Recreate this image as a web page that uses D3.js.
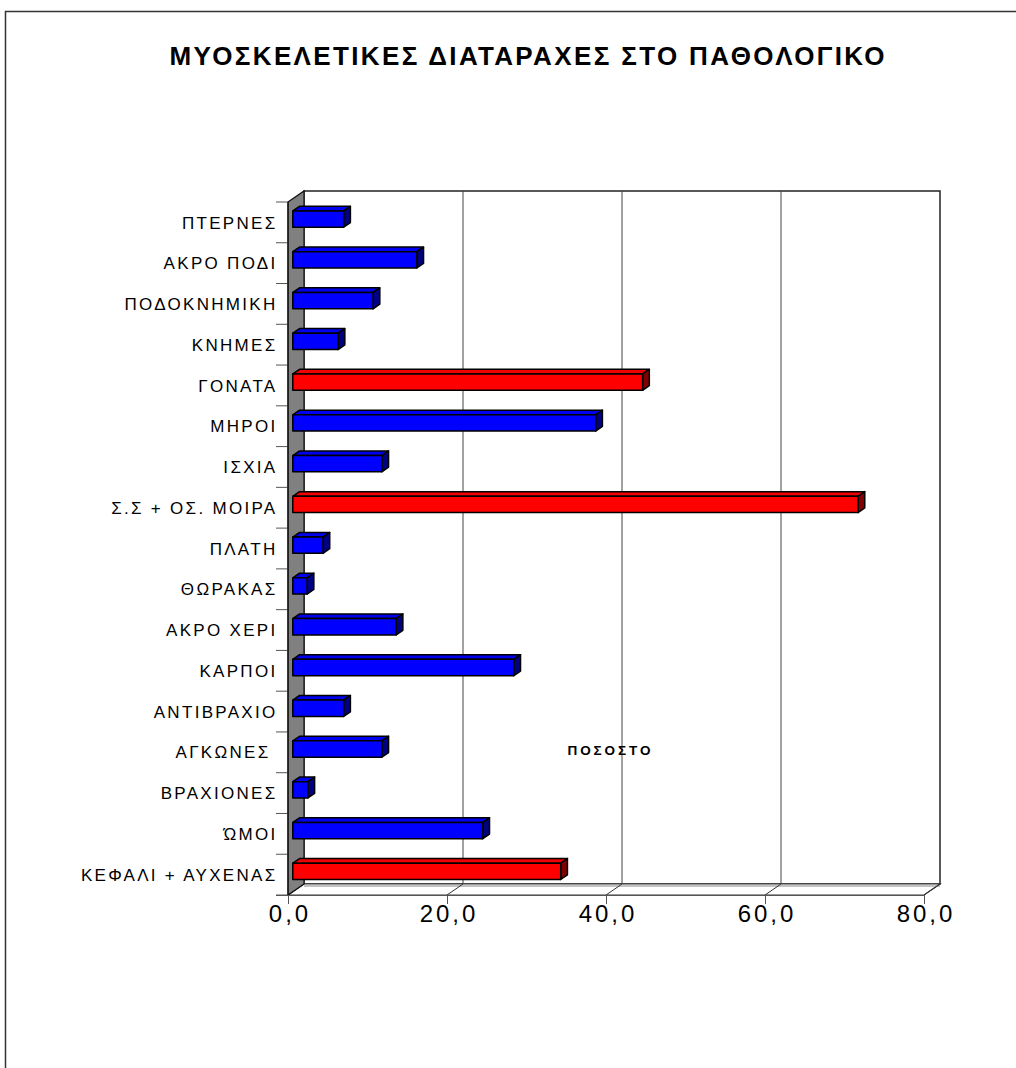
<!DOCTYPE html>
<html>
<head>
<meta charset="utf-8">
<script src="https://cdn.jsdelivr.net/npm/d3@7"></script>
<style>
  html, body { margin: 0; padding: 0; background: #fff; }
  svg { display: block; }
  text { font-family: "Liberation Sans", Arial, sans-serif; }
</style>
</head>
<body>
<script>
// Categories, top to bottom as listed on the axis
const categories = [
  "ΠΤΕΡΝΕΣ", "ΑΚΡΟ ΠΟΔΙ", "ΠΟΔΟΚΝΗΜΙΚΗ", "ΚΝΗΜΕΣ", "ΓΟΝΑΤΑ", "ΜΗΡΟΙ",
  "ΙΣΧΙΑ", "Σ.Σ + ΟΣ. ΜΟΙΡΑ", "ΠΛΑΤΗ", "ΘΩΡΑΚΑΣ", "ΑΚΡΟ ΧΕΡΙ", "ΚΑΡΠΟΙ",
  "ΑΝΤΙΒΡΑΧΙΟ", "ΑΓΚΩΝΕΣ ", "ΒΡΑΧΙΟΝΕΣ", "ΏΜΟΙ", "ΚΕΦΑΛΙ + ΑΥΧΕΝΑΣ"
];
// Percentage per body region
const values = [
  6.4, 15.6, 10.1, 5.7, 44.0, 38.1,
  11.2, 71.1, 3.8, 1.8, 13.0, 27.8,
  6.4, 11.2, 1.9, 23.9, 33.7
];
// Highlighted regions (drawn red)
const highlighted = ["ΓΟΝΑΤΑ", "Σ.Σ + ΟΣ. ΜΟΙΡΑ", "ΚΕΦΑΛΙ + ΑΥΧΕΝΑΣ"];
const xTicks = [0, 20, 40, 60, 80];
const title = "ΜΥΟΣΚΕΛΕΤΙΚΕΣ ΔΙΑΤΑΡΑΧΕΣ ΣΤΟ ΠΑΘΟΛΟΓΙΚΟ";
const xTitle = "ΠΟΣΟΣΤΟ";

const W = 1016, H = 1068;
const svg = d3.select("body").append("svg").attr("width", W).attr("height", H);

// Outer chart frame (extends past the visible page on right and bottom)
svg.append("path")
  .attr("d", "M5.5,1100 L5.5,11.5 L1100,11.5")
  .attr("fill", "none").attr("stroke", "#333").attr("stroke-width", 1.5);

// 3D box geometry: front plane and depth offset
const X0 = 288, X1 = 924;          // front plane x extent
const Y0 = 202, Y1 = 895;          // front plane y extent
const DX = 16, DY = -11;           // depth vector (front -> back)

const x = d3.scaleLinear().domain([0, 80]).range([X0, X1]);
const y = d3.scaleBand().domain(categories).range([Y0, Y1]).paddingInner(0.6).paddingOuter(0.3);
const yEdge = d3.scaleLinear().domain([0, categories.length]).range([Y0, Y1]);

const P = (px, py, f) => [px + DX * f, py + DY * f];
const poly = pts => "M" + pts.map(p => p.join(",")).join("L") + "Z";

// Back wall
svg.append("rect")
  .attr("x", X0 + DX).attr("y", Y0 + DY)
  .attr("width", X1 - X0).attr("height", Y1 - Y0)
  .attr("fill", "#fff").attr("stroke", "#222").attr("stroke-width", 1.5);

// Vertical gridlines on back wall
const grid = svg.append("g");
xTicks.filter(v => v > 0 && v < 80).forEach(v => {
  grid.append("line")
    .attr("x1", x(v) + DX).attr("x2", x(v) + DX)
    .attr("y1", Y0 + DY).attr("y2", Y1 + DY)
    .attr("stroke", "#444").attr("stroke-width", 1);
});

// Floor slab with gridline continuations
svg.append("path")
  .attr("d", poly([[X0, Y1], [X0 + DX, Y1 + DY], [X1 + DX, Y1 + DY], [X1, Y1]]))
  .attr("fill", "#fff").attr("stroke", "#333").attr("stroke-width", 1.2);
svg.append("line")
  .attr("x1", X0 + DX).attr("x2", X1 + DX)
  .attr("y1", Y1 + DY + 2).attr("y2", Y1 + DY + 2)
  .attr("stroke", "#888").attr("stroke-width", 1);
xTicks.forEach(v => {
  svg.append("line")
    .attr("x1", x(v)).attr("y1", Y1)
    .attr("x2", x(v) + DX).attr("y2", Y1 + DY)
    .attr("stroke", "#333").attr("stroke-width", 1);
});

// Side wall (grey)
svg.append("path")
  .attr("d", poly([[X0, Y0], [X0 + DX, Y0 + DY], [X0 + DX, Y1 + DY], [X0, Y1]]))
  .attr("fill", "#808080").attr("stroke", "#111").attr("stroke-width", 1.2);

// Bars as 3D boxes
const f1 = 0.3, f2 = 0.72;   // bar depth span as fraction of the box depth
const colors = {
  blue: { front: "#0000ff", top: "#0000f0", side: "#000080" },
  red:  { front: "#ff0000", top: "#f00000", side: "#800000" }
};
const bars = svg.append("g");
categories.forEach((c, i) => {
  const col = highlighted.includes(c) ? colors.red : colors.blue;
  const xa = x(0), xb = x(values[i]);
  const ya = y(c), yb = y(c) + y.bandwidth();
  const g = bars.append("g").attr("stroke", "#000").attr("stroke-width", 1.5).attr("stroke-linejoin", "round");
  g.append("path").attr("fill", col.top)
    .attr("d", poly([P(xa, ya, f1), P(xb, ya, f1), P(xb, ya, f2), P(xa, ya, f2)]));
  g.append("path").attr("fill", col.side)
    .attr("d", poly([P(xb, ya, f1), P(xb, ya, f2), P(xb, yb, f2), P(xb, yb, f1)]));
  g.append("path").attr("fill", col.front)
    .attr("d", poly([P(xa, ya, f1), P(xb, ya, f1), P(xb, yb, f1), P(xa, yb, f1)]));
});

// Category axis: ticks at band edges, labels centred on bands
const yAxis = svg.append("g");
d3.range(categories.length + 1).forEach(k => {
  yAxis.append("line")
    .attr("x1", X0 - 12).attr("x2", X0)
    .attr("y1", yEdge(k)).attr("y2", yEdge(k))
    .attr("stroke", "#555").attr("stroke-width", 1);
});
yAxis.append("line")
  .attr("x1", X0).attr("x2", X0).attr("y1", Y0).attr("y2", Y1)
  .attr("stroke", "#111").attr("stroke-width", 1.2);
yAxis.selectAll("text.cat").data(categories).join("text")
  .attr("class", "cat")
  .attr("x", 277.5)
  .attr("y", (d, i) => (yEdge(i) + yEdge(i + 1)) / 2)
  .attr("dy", "0.36em")
  .attr("text-anchor", "end")
  .attr("font-size", 17)
  .attr("letter-spacing", 2.3)
  .attr("fill", "#000")
  .style("white-space", "pre")
  .text(d => d);

// Value axis along the front edge
const fmt = d3.formatLocale({ decimal: ",", thousands: ".", grouping: [3], currency: ["", "€"] }).format(".1f");
const xAxis = svg.append("g").attr("transform", `translate(0,${Y1})`)
  .call(d3.axisBottom(x).tickValues(xTicks).tickFormat(fmt).tickSize(9).tickPadding(1));
xAxis.select(".domain").attr("stroke", "#555").attr("d", `M${X0 - 12},0.5H${X1}`);
xAxis.selectAll(".tick line").attr("stroke", "#555");
xAxis.selectAll(".tick text")
  .attr("font-family", "\"Liberation Sans\", Arial, sans-serif")
  .attr("font-size", 24)
  .attr("letter-spacing", 3)
  .attr("dx", 1.5)
  .attr("fill", "#000");

// Titles
svg.append("text")
  .attr("x", 527).attr("y", 65)
  .attr("text-anchor", "middle")
  .attr("font-size", 26).attr("font-weight", "bold")
  .attr("textLength", 715).attr("lengthAdjust", "spacing")
  .text(title);

svg.append("text")
  .attr("x", 609).attr("y", 755)
  .attr("text-anchor", "middle")
  .attr("font-size", 13.5).attr("font-weight", "bold")
  .attr("textLength", 83).attr("lengthAdjust", "spacing")
  .text(xTitle);
</script>
</body>
</html>
